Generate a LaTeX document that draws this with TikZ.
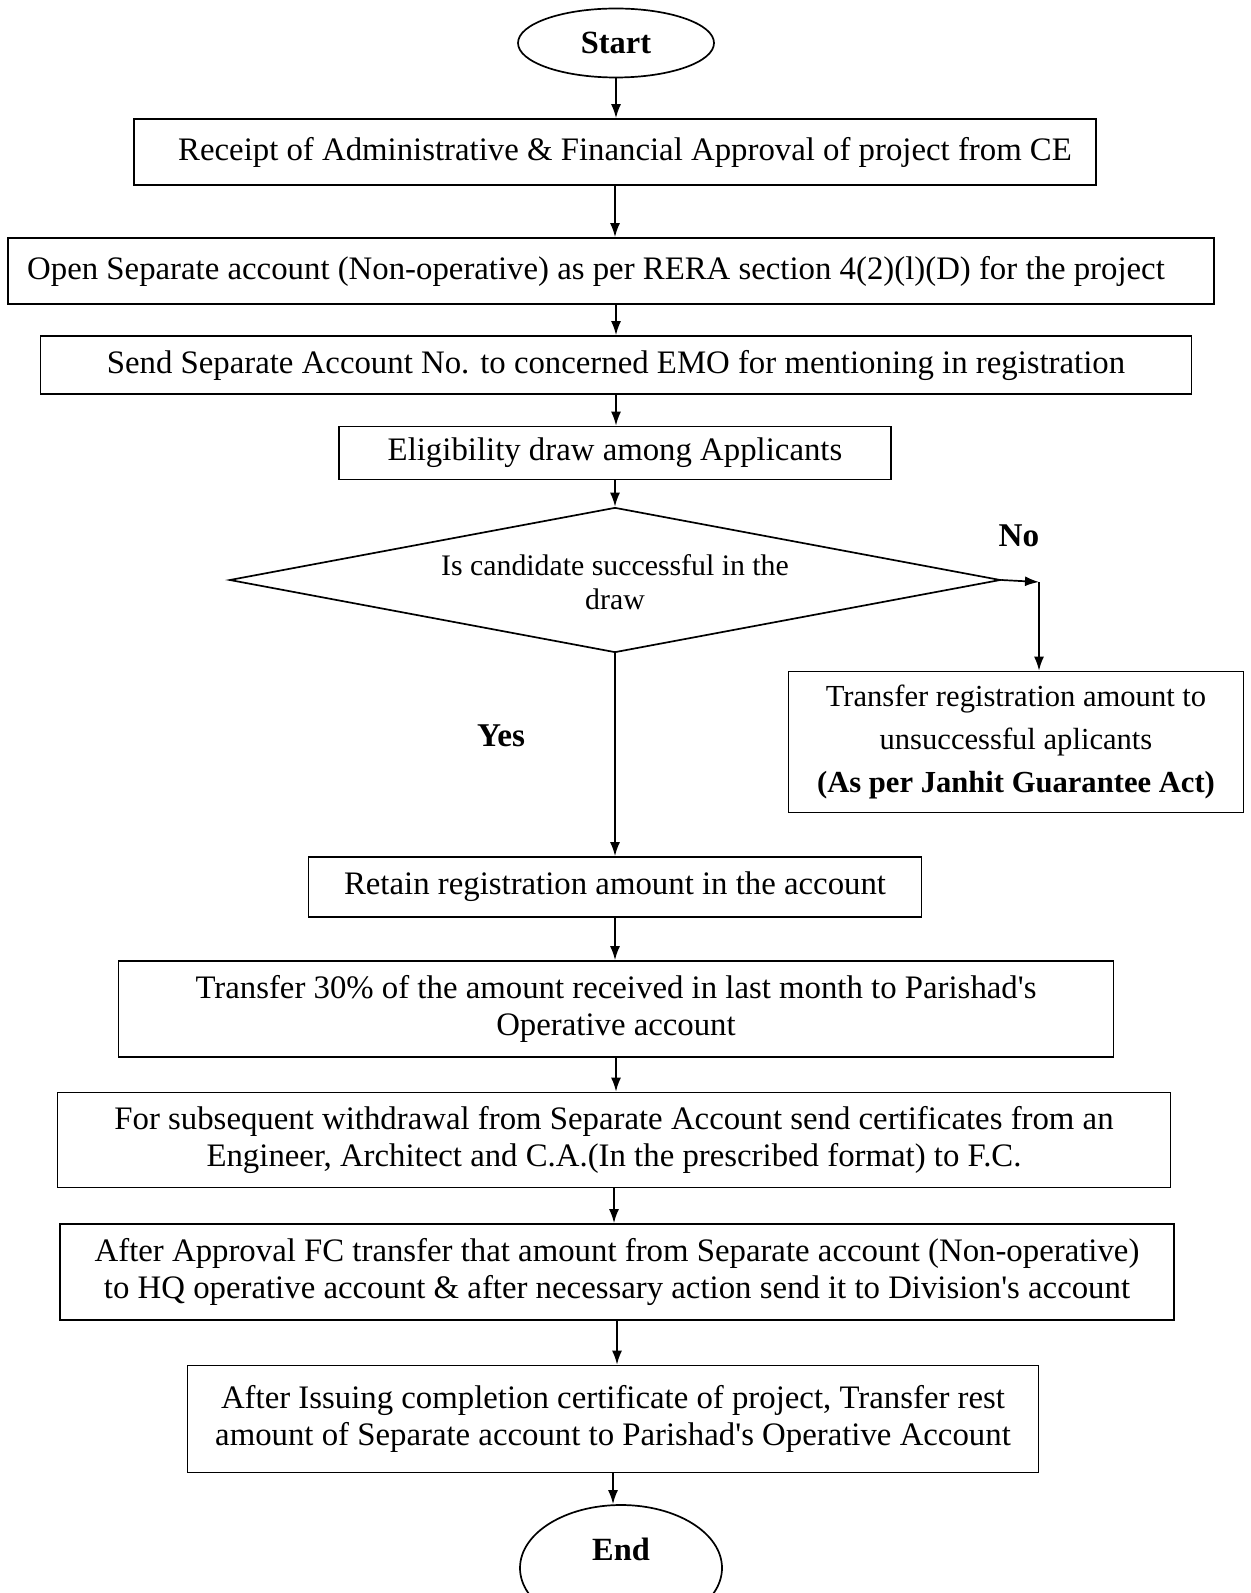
\documentclass[tikz,border=0pt]{standalone}
\usepackage{fontspec}
\setmainfont{Liberation Serif}
\usetikzlibrary{shapes.geometric, arrows.meta, positioning}

\tikzset{
  stepbox/.style={draw, rectangle, inner sep=0pt, align=center,
    font=\fontsize{16.4}{18.8}\selectfont},
  termnode/.style={draw, ellipse, inner sep=0pt, align=center,
    font=\fontsize{16.2}{18.8}\selectfont\bfseries},
  decision/.style={draw, diamond, inner sep=0pt, align=center,
    font=\fontsize{14.9}{16.8}\selectfont},
  answer/.style={inner sep=0pt, font=\fontsize{16.6}{18.8}\selectfont\bfseries},
  flow/.style={-{Latex[length=7pt,width=5pt]}},
}

\begin{document}
\begin{tikzpicture}[x=0.5pt, y=-0.5pt, line width=0.85pt]
        \useasboundingbox (0,0) rectangle (1250,1593);
        % terminals and steps
        \node [termnode, minimum width=98pt, minimum height=34.5pt] (start) at (616,43) {Start};
        \node [stepbox, minimum width=481pt, minimum height=33pt] (receipt) at (615,152)
          {\hspace{10pt}Receipt of Administrative \& Financial Approval of project from CE};
        \node [stepbox, minimum width=603pt, minimum height=33pt] (openacc) at (611,271)
          {Open Separate account (Non-operative) as per RERA section 4(2)(l)(D) for the project\hspace*{15pt}};
        \node [stepbox, minimum width=575.5pt, minimum height=29pt] (sendno) at (616,365)
          {Send Separate Account No. to concerned EMO for mentioning in registration};
        \node [stepbox, minimum width=276pt, minimum height=26.5pt] (draw) at (615,453)
          {Eligibility draw among Applicants};
        \node [decision, minimum width=385.5pt, minimum height=72.5pt, aspect=5.3] (success) at (615,580)
          {\\[-4pt]Is candidate successful in the\\draw};
        \coordinate (nocorner) at (1039,582);
        \node [answer] (nolabel) at (1019,536) {No};
        \node [stepbox, minimum width=227.5pt, minimum height=70.5pt,
          font=\fontsize{15.3}{21.5}\selectfont] (refund) at (1016,742)
          {Transfer registration amount to\\unsuccessful aplicants\\\textbf{(As per Janhit Guarantee Act)}};
        \node [answer] (yeslabel) at (501,736) {Yes};
        \node [stepbox, minimum width=306.5pt, minimum height=30pt] (retain) at (615,887)
          {Retain registration amount in the account};
        \node [stepbox, minimum width=497.5pt, minimum height=48pt] (thirty) at (616,1009)
          {Transfer 30\% of the amount received in last month to Parishad{\textquotesingle}s\\Operative account};
        \node [stepbox, minimum width=556.5pt, minimum height=47.5pt] (certs) at (614,1140)
          {For subsequent withdrawal from Separate Account send certificates from an\\Engineer, Architect and C.A.(In the prescribed format) to F.C.};
        \node [stepbox, minimum width=557pt, minimum height=48pt] (approval) at (617,1272)
          {After Approval FC transfer that amount from Separate account (Non-operative)\\to HQ operative account \& after necessary action send it to Division{\textquotesingle}s account};
        \node [stepbox, minimum width=425.5pt, minimum height=53.5pt] (complete) at (613,1419)
          {After Issuing completion certificate of project, Transfer rest\\amount of Separate account to Parishad{\textquotesingle}s Operative Account};
        \node [termnode, minimum width=101pt, minimum height=63pt] (finish) at (621,1568)
          {End\\\phantom{E}};
        % connectors
        \draw [flow] (start) -- (start |- receipt.north);
        \draw [flow] (receipt) -- (receipt |- openacc.north);
        \draw [flow] (openacc.south -| sendno) -- (sendno.north);
        \draw [flow] (sendno) -- (sendno |- draw.north);
        \draw [flow] (draw) -- (success);
        \draw [flow] (success.east) -- (nocorner);
        \draw [flow] (nocorner) -- (nocorner |- refund.north);
        \draw [flow] (success.south) -- (success.south |- retain.north);
        \draw [flow] (retain) -- (retain |- thirty.north);
        \draw [flow] (thirty) -- (thirty |- certs.north);
        \draw [flow] (certs) -- (certs |- approval.north);
        \draw [flow] (approval) -- (approval |- complete.north);
        \draw [flow] (complete) -- (complete |- finish.north);
\end{tikzpicture}
\end{document}
